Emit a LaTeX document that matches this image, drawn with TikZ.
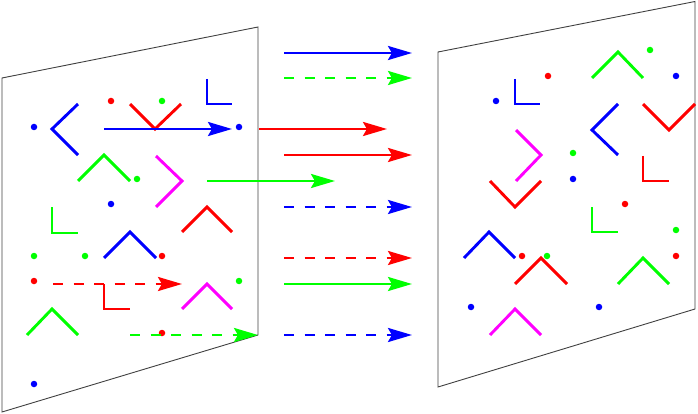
\documentclass[tikz,border=0pt]{standalone}
\usetikzlibrary{arrows.meta}
\definecolor{colB}{RGB}{0,0,255}
\definecolor{colR}{RGB}{255,0,0}
\definecolor{colG}{RGB}{0,255,0}
\definecolor{colM}{RGB}{255,0,255}
\tikzset{
  panel/.style={draw=black!75, line width=0.9pt},
  shp/.style={line width=2.9pt},
  dotc/.style={circle, inner sep=0pt, minimum size=6.5pt},
  arr/.style={line width=2.9pt, -{Stealth[length=24pt,width=14pt,inset=4pt]}},
  dsh/.style={dash pattern=on 10pt off 10.5pt}
}
\begin{document}
\begin{tikzpicture}[x=1pt,y=-1pt]
\useasboundingbox (0,0) rectangle (698,414);
% panels
\draw[panel] (2,78) -- (258,27) -- (258,335) -- (2,412) -- cycle;
\draw[panel] (438,52) -- (695,1.5) -- (695,309) -- (438,387) -- cycle;

% ---- left panel shapes
\draw[shp,colB] (78,104) -- (52,129) -- (78,155);
\draw[shp,colR] (130,104) -- (155,129) -- (181,104);
\draw[shp,colB] (207,79) -- (207,104) -- (232,104);
\draw[shp,colG] (78,181) -- (104,155) -- (130,181);
\draw[shp,colM] (156,156) -- (182,181) -- (156,207);
\draw[shp,colG] (52,207) -- (52,233) -- (78,233);
\draw[shp,colR] (182,232) -- (207,207) -- (232,232);
\draw[shp,colB] (104,258) -- (130,232) -- (156,258);
\draw[shp,colR] (104,284) -- (104,309) -- (130,309);
\draw[shp,colM] (182,309) -- (207,284) -- (232,309);
\draw[shp,colG] (27,335) -- (52,309) -- (78,335);

\node[dotc,fill=colB] (l1) at (34,127) {};
\node[dotc,fill=colR] (l2) at (111,101) {};
\node[dotc,fill=colG] (l3) at (162,101) {};
\node[dotc,fill=colB] (l4) at (239,127) {};
\node[dotc,fill=colG] (l5) at (137,179) {};
\node[dotc,fill=colB] (l6) at (111,204) {};
\node[dotc,fill=colG] (l7) at (34,256) {};
\node[dotc,fill=colG] (l8) at (85,256) {};
\node[dotc,fill=colR] (l9) at (162,256) {};
\node[dotc,fill=colR] (l10) at (34,281) {};
\node[dotc,fill=colG] (l11) at (239,281) {};
\node[dotc,fill=colR] (l12) at (162,333) {};
\node[dotc,fill=colB] (l13) at (34,384) {};

% ---- right panel shapes
\draw[shp,colG] (592,78) -- (618,52) -- (643,78);
\draw[shp,colB] (515,79) -- (515,104) -- (540,104);
\draw[shp,colB] (618,104) -- (592,130) -- (618,155);
\draw[shp,colR] (643,104) -- (669,130) -- (695,104);
\draw[shp,colM] (516,130) -- (541,155) -- (516,181);
\draw[shp,colR] (643,156) -- (643,181) -- (669,181);
\draw[shp,colR] (490,181) -- (515,207) -- (541,181);
\draw[shp,colG] (592,207) -- (592,232) -- (618,232);
\draw[shp,colB] (464,258) -- (489,232) -- (515,258);
\draw[shp,colR] (515,284) -- (541,258) -- (567,284);
\draw[shp,colG] (618,284) -- (643,258) -- (669,284);
\draw[shp,colM] (490,335) -- (515,309) -- (541,335);

\node[dotc,fill=colR] (r1) at (548,76) {};
\node[dotc,fill=colG] (r2) at (650,50) {};
\node[dotc,fill=colB] (r3) at (676,76) {};
\node[dotc,fill=colB] (r4) at (496,101) {};
\node[dotc,fill=colG] (r5) at (573,153) {};
\node[dotc,fill=colB] (r6) at (573,179) {};
\node[dotc,fill=colR] (r7) at (625,204) {};
\node[dotc,fill=colG] (r8) at (676,230) {};
\node[dotc,fill=colR] (r9) at (522,256) {};
\node[dotc,fill=colG] (r10) at (547,256) {};
\node[dotc,fill=colR] (r11) at (676,256) {};
\node[dotc,fill=colB] (r12) at (471,307) {};
\node[dotc,fill=colB] (r13) at (599,307) {};

% ---- arrows
\coordinate (a1s) at (104,129); \coordinate (a1e) at (232,129);
\coordinate (a2s) at (259,129); \coordinate (a2e) at (387,129);
\coordinate (a3s) at (207,181); \coordinate (a3e) at (335,181);
\coordinate (a4s) at (53,284);  \coordinate (a4e) at (182,284);
\coordinate (a5s) at (130,335); \coordinate (a5e) at (258,335);
\draw[arr,colB] (a1s) -- (a1e);
\draw[arr,colR] (a2s) -- (a2e);
\draw[arr,colG] (a3s) -- (a3e);
\draw[arr,colR,dsh] (a4s) -- (a4e);
\draw[arr,colG,dsh] (a5s) -- (a5e);

\coordinate (m1s) at (284,53);  \coordinate (m1e) at (412,53);
\coordinate (m2s) at (284,78);  \coordinate (m2e) at (412,78);
\coordinate (m3s) at (284,155); \coordinate (m3e) at (412,155);
\coordinate (m4s) at (284,207); \coordinate (m4e) at (412,207);
\coordinate (m5s) at (284,258); \coordinate (m5e) at (412,258);
\coordinate (m6s) at (284,284); \coordinate (m6e) at (412,284);
\coordinate (m7s) at (284,335); \coordinate (m7e) at (412,335);
\draw[arr,colB] (m1s) -- (m1e);
\draw[arr,colG,dsh] (m2s) -- (m2e);
\draw[arr,colR] (m3s) -- (m3e);
\draw[arr,colB,dsh] (m4s) -- (m4e);
\draw[arr,colR,dsh] (m5s) -- (m5e);
\draw[arr,colG] (m6s) -- (m6e);
\draw[arr,colB,dsh] (m7s) -- (m7e);
\end{tikzpicture}
\end{document}
